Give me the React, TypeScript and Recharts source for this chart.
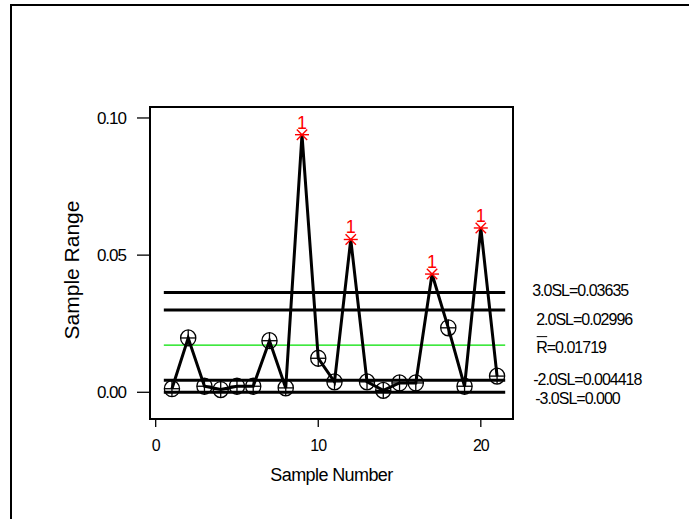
import React from "react";
import { ComposedChart, Line, XAxis, YAxis, ReferenceLine, ReferenceArea } from "recharts";

const samples = [1, 2, 3, 4, 5, 6, 7, 8, 9, 10, 11, 12, 13, 14, 15, 16, 17, 18, 19, 20, 21];
const ranges = [0.0013, 0.0198, 0.0022, 0.001, 0.0022, 0.0022, 0.0188, 0.0016, 0.0939, 0.0124, 0.0038, 0.0557, 0.0038, 0.0007, 0.0034, 0.0034, 0.0431, 0.0235, 0.0022, 0.0599, 0.0059];

const limitValues = [0.03635, 0.02996, 0.01719, 0.004418, 0];
const limitTexts = ["3.0SL=0.03635", "2.0SL=0.02996", "R=0.01719", "-2.0SL=0.004418", "-3.0SL=0.000"];
const limitColors = ["#000000", "#000000", "#00e000", "#000000", "#000000"];
const limitWidths = [3, 3, 1.3, 3, 3];
const labelDx = [27, 31, 31, 28, 30];
const labelDy = [-2, 9, 2, -0.5, 6];

const xTicks = [0, 10, 20];
const yTicks = [0, 0.05, 0.1];

const UCL = 0.03635;
const XMIN = -0.35;
const XMAX = 21.98;
const YMIN = -0.00974;
const YMAX = 0.104;
const LINE_X0 = 0.5;
const LINE_X1 = 21.5;

const data = samples.map((s, i) => ({ sample: s, range: ranges[i] }));

const FONT = "'Liberation Sans', Arial, sans-serif";

const renderDot = (props: any) => {
  const { cx, cy, index, payload } = props;
  if (cx == null || cy == null) return <g key={`d${index}`} />;
  if (payload.range > UCL) {
    const r = 7;
    const d = 5.2;
    return (
      <g key={`d${index}`}>
        <line x1={cx - r} y1={cy} x2={cx + r} y2={cy} stroke="#ff0000" strokeWidth={1.4} />
        <line x1={cx - d} y1={cy - d} x2={cx + d} y2={cy + d} stroke="#ff0000" strokeWidth={1.4} />
        <line x1={cx - d} y1={cy + d} x2={cx + d} y2={cy - d} stroke="#ff0000" strokeWidth={1.4} />
        <text x={cx} y={cy - 6} fill="#ff0000" fontSize={18} fontFamily={FONT} textAnchor="middle">
          1
        </text>
      </g>
    );
  }
  return (
    <g key={`d${index}`}>
      <ellipse cx={cx} cy={cy} rx={7.6} ry={8} fill="none" stroke="#000" strokeWidth={1.3} />
      <line x1={cx - 7.6} y1={cy} x2={cx + 7.6} y2={cy} stroke="#000" strokeWidth={1.3} />
      <line x1={cx} y1={cy - 8} x2={cx} y2={cy + 8} stroke="#000" strokeWidth={1.3} />
    </g>
  );
};

const makeLimitLabel = (i: number) => (p: any) => {
  const vb = p.viewBox || {};
  const x = (vb.x || 0) + (vb.width || 0) + labelDx[i];
  const y = (vb.y || 0) + labelDy[i];
  const text = limitTexts[i];
  return (
    <g>
      <text
        x={x}
        y={y}
        dy="0.36em"
        fontSize={16}
        letterSpacing={-1}
        fontFamily={FONT}
        fill="#000"
      >
        {text}
      </text>
      {text.startsWith("R=") ? (
        <line x1={x + 0.5} y1={y - 10.5} x2={x + 11} y2={y - 10.5} stroke="#000" strokeWidth={1} />
      ) : null}
    </g>
  );
};

const xLabel = (p: any) => {
  const vb = p.viewBox || {};
  return (
    <text
      x={vb.x + vb.width / 2}
      y={vb.y + 62}
      textAnchor="middle"
      fontSize={18}
      letterSpacing={-0.6}
      fontFamily={FONT}
      fill="#000"
    >
      Sample Number
    </text>
  );
};

const yLabel = (p: any) => {
  const vb = p.viewBox || {};
  const x = vb.x + vb.width - 71;
  const y = vb.y + vb.height / 2 + 7;
  return (
    <text
      x={x}
      y={y}
      transform={`rotate(-90, ${x}, ${y})`}
      textAnchor="middle"
      fontSize={21}
      fontFamily={FONT}
      fill="#000"
    >
      Sample Range
    </text>
  );
};

export default function App() {
  return (
    <div
      style={{
        position: "fixed",
        left: 0,
        top: 0,
        width: 689,
        height: 519,
        overflow: "hidden",
        background: "#fff",
      }}
    >
      <div
        style={{
          position: "absolute",
          left: 10,
          top: 4,
          width: 679,
          height: 515,
          borderLeft: "2px solid #000",
          borderTop: "2px solid #000",
          boxSizing: "border-box",
        }}
      />
      <div style={{ position: "absolute", left: 0, top: 0 }}>
        <ComposedChart
          width={689}
          height={519}
          data={data}
          margin={{ top: 107, right: 176, bottom: 40, left: 90 }}
        >
          <XAxis
            dataKey="sample"
            type="number"
            domain={[XMIN, XMAX]}
            allowDataOverflow
            ticks={xTicks}
            height={60}
            axisLine={false}
            tickLine={{ stroke: "#000", strokeWidth: 1.3 }}
            tickSize={8}
            tickMargin={13}
            tick={{ fill: "#000", fontSize: 16, fontFamily: FONT, letterSpacing: -1 }}
            label={{ content: xLabel }}
          />
          <YAxis
            type="number"
            domain={[YMIN, YMAX]}
            allowDataOverflow
            ticks={yTicks}
            width={60}
            axisLine={false}
            tickLine={{ stroke: "#000", strokeWidth: 1.3 }}
            tickSize={13}
            tickMargin={11}
            tickFormatter={(v: number) => v.toFixed(2)}
            tick={{ fill: "#000", fontSize: 17, fontFamily: FONT, letterSpacing: -1 }}
            label={{ content: yLabel }}
          />
          <ReferenceArea
            x1={XMIN}
            x2={XMAX}
            y1={YMIN}
            y2={YMAX}
            fill="none"
            stroke="#000"
            strokeWidth={2}
            ifOverflow="visible"
          />
          {limitValues.map((v, i) => (
            <ReferenceLine
              key={`lim${i}`}
              segment={[
                { x: LINE_X0, y: v },
                { x: LINE_X1, y: v },
              ]}
              stroke={limitColors[i]}
              strokeWidth={limitWidths[i]}
              ifOverflow="visible"
              label={{ content: makeLimitLabel(i) }}
            />
          ))}
          <Line
            type="linear"
            dataKey="range"
            stroke="#000"
            strokeWidth={3}
            dot={renderDot}
            activeDot={false}
            isAnimationActive={false}
          />
        </ComposedChart>
      </div>
    </div>
  );
}
